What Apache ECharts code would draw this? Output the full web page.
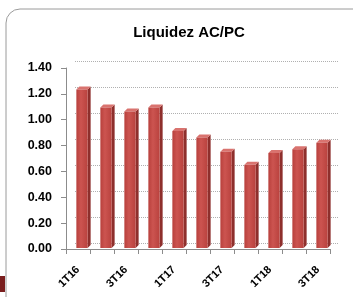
<!DOCTYPE html>
<html><head><meta charset="utf-8">
<script src="https://cdn.jsdelivr.net/npm/echarts@6/dist/echarts.min.js"></script>
<style>html,body{margin:0;padding:0;background:#fff}#c{width:353px;height:297px}</style>
</head><body><div id="c"></div>
<script>
const categories = ['1T16','2T16','3T16','4T16','1T17','2T17','3T17','4T17','1T18','2T18','3T18'];
const values = [1.22, 1.08, 1.05, 1.08, 0.90, 0.85, 0.74, 0.64, 0.73, 0.76, 0.81];
const yTicks = [0, 0.2, 0.4, 0.6, 0.8, 1.0, 1.2, 1.4];
const title = 'Liquidez AC/PC';

const chart = echarts.init(document.getElementById('c'));
const font = 'Liberation Sans, Arial, sans-serif';
const DX = 3, DY = -3;
chart.setOption({
  animation: false,
  title: { text: title, left: 184, top: 20, textAlign: 'center',
    textStyle: { fontFamily: font, fontSize: 15, fontWeight: 'bold', color: '#000' } },
  graphic: [
    { type: 'rect', shape: { x: 6, y: 9, width: 380, height: 320, r: 14 },
      style: { fill: 'none', stroke: '#9a9a9a', lineWidth: 1 }, z: -10 },
    { type: 'rect', shape: { x: 0, y: 276, width: 5, height: 16 }, style: { fill: '#7a1e1e' } }
  ],
  grid: [
    { left: 66, right: 23, top: 68, bottom: 48 },
    { left: 75, right: 14, top: 61, bottom: 54 },
    { left: 70, right: 19, top: 66, bottom: 49 }
  ],
  xAxis: [
    { type: 'category', gridIndex: 0, data: categories,
      axisLine: { lineStyle: { color: '#8c8c8c' } },
      axisTick: { show: true, interval: 0, lineStyle: { color: '#8c8c8c' } },
      axisLabel: { interval: 1, rotate: 45, fontFamily: font, fontSize: 11, fontWeight: 'bold', color: '#000', margin: 19 } },
    { type: 'category', gridIndex: 1, data: categories, show: false },
    { type: 'category', gridIndex: 2, data: categories, show: false }
  ],
  yAxis: [
    { type: 'value', gridIndex: 0, min: 0, max: 1.4, interval: 0.2,
      axisLine: { show: true, lineStyle: { color: '#8c8c8c' } },
      axisTick: { show: true, lineStyle: { color: '#8c8c8c' } },
      splitLine: { show: false },
      axisLabel: { fontFamily: font, fontSize: 12.5, fontWeight: 'bold', color: '#000', margin: 14,
        formatter: v => v.toFixed(2) } },
    { type: 'value', gridIndex: 1, min: 0, max: 1.4, interval: 0.2,
      axisLabel: { show: false }, axisLine: { show: false }, axisTick: { show: false },
      splitLine: { show: true, lineStyle: { color: '#b0b0b0', type: 'dotted', width: 1 } } },
    { type: 'value', gridIndex: 2, min: 0, max: 1.4, show: false, splitLine: { show: false } }
  ],
  series: [{
    type: 'custom', xAxisIndex: 2, yAxisIndex: 2,
    data: values.map((v, i) => [i, v]),
    renderItem: function (params, api) {
      const i = api.value(0), v = api.value(1);
      const top = api.coord([i, v]);
      const base = api.coord([i, 0]);
      const w = api.size([1, 0])[0] * 0.47;
      const x0 = top[0] - w / 2, x1 = top[0] + w / 2;
      const yt = top[1], yb = base[1];
      return { type: 'group', children: [
        { type: 'polygon', shape: { points: [[x1, yt], [x1 + DX, yt + DY], [x1 + DX, yb + DY], [x1, yb]] },
          style: { fill: '#8e2f2c' } },
        { type: 'polygon', shape: { points: [[x0, yt], [x0 + DX, yt + DY], [x1 + DX, yt + DY], [x1, yt]] },
          style: { fill: '#d9736f' } },
        { type: 'rect', shape: { x: x0, y: yt, width: w, height: yb - yt },
          style: { fill: new echarts.graphic.LinearGradient(0, 0, 1, 0, [
            { offset: 0, color: '#b8403c' }, { offset: 0.4, color: '#cc5450' }, { offset: 1, color: '#b9423e' }]) } }
      ] };
    }
  }]
});
</script></body></html>
